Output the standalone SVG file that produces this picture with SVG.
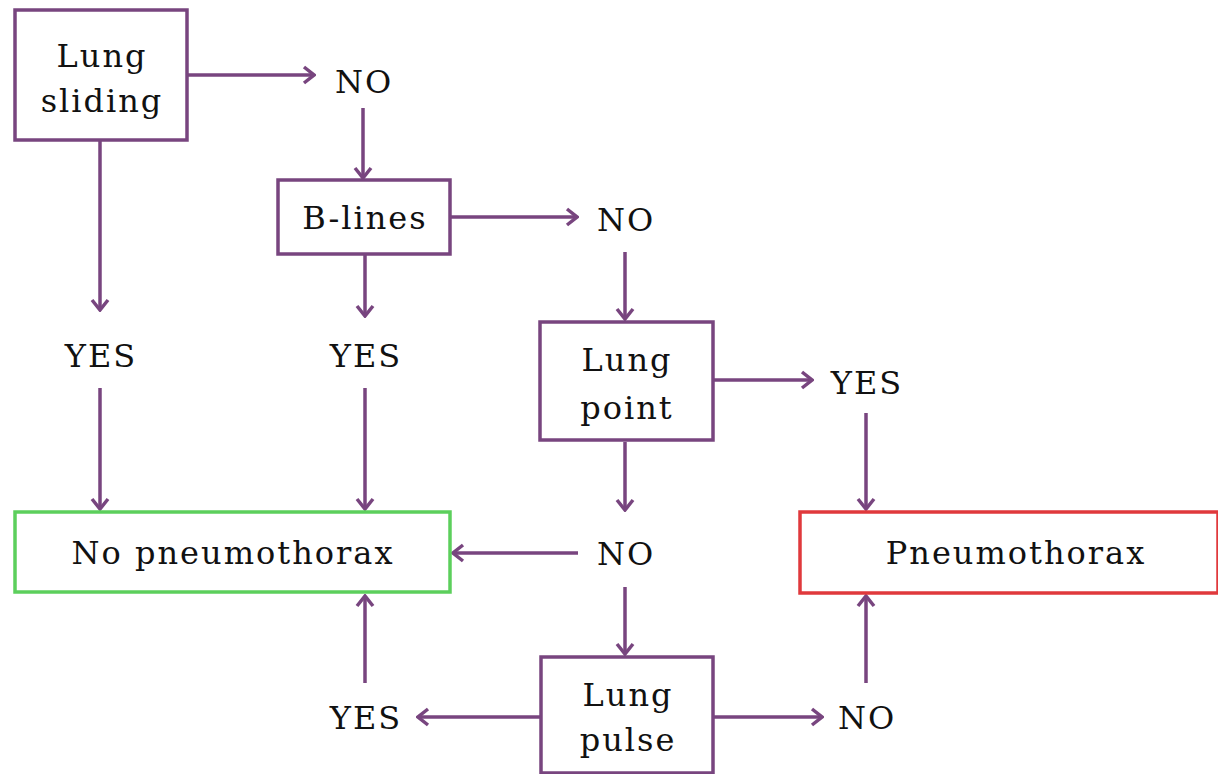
<svg xmlns="http://www.w3.org/2000/svg" width="1218" height="774" viewBox="0 0 1218 774">
<style>
.box{fill:#fff;stroke:#78457f;stroke-width:3.5}
.green{stroke:#5ccf5c}
.red{stroke:#e0393c}
.t{font-family:"DejaVu Serif","Liberation Serif",serif;font-size:32px;letter-spacing:2px;fill:#111;text-anchor:middle}
.c line{stroke:#78457f;stroke-width:3.5;marker-end:url(#ah)}
</style>
<defs>
<marker id="ah" viewBox="0 0 14 20" refX="12" refY="10" markerWidth="14" markerHeight="20" markerUnits="userSpaceOnUse" orient="auto">
<path d="M2,2 L12,10 L2,18" fill="none" stroke="#78457f" stroke-width="3.5" stroke-linejoin="miter"/>
</marker>
</defs>
<rect width="1218" height="774" fill="#fff"/>
<g class="c" id="connectors">
<line x1="187" y1="75" x2="314" y2="75"/>
<line x1="363" y1="108" x2="363" y2="178"/>
<line x1="450" y1="217" x2="577" y2="217"/>
<line x1="625" y1="252" x2="625" y2="319"/>
<line x1="100" y1="140" x2="100" y2="310"/>
<line x1="365" y1="255" x2="365" y2="316"/>
<line x1="100" y1="388" x2="100" y2="509"/>
<line x1="365" y1="388" x2="365" y2="509"/>
<line x1="713" y1="380" x2="812" y2="380"/>
<line x1="866" y1="413" x2="866" y2="509"/>
<line x1="625" y1="442" x2="625" y2="510"/>
<line x1="578" y1="553" x2="453" y2="553"/>
<line x1="625" y1="587" x2="625" y2="654"/>
<line x1="540" y1="717" x2="418" y2="717"/>
<line x1="365" y1="683" x2="365" y2="596"/>
<line x1="713" y1="717" x2="822" y2="717"/>
<line x1="866" y1="683" x2="866" y2="596"/>
</g>
<g id="lung-sliding"><rect class="box" x="15" y="10" width="172" height="130"/><text class="t" x="102" y="67">Lung</text><text class="t" x="102" y="112">sliding</text></g>
<g id="no1"><text class="t" x="364" y="93">NO</text></g>
<g id="b-lines"><rect class="box" x="278" y="180" width="172" height="74"/><text class="t" x="365" y="229">B-lines</text></g>
<g id="no2"><text class="t" x="626" y="231">NO</text></g>
<g id="yes1"><text class="t" x="101" y="367">YES</text></g>
<g id="yes2"><text class="t" x="366" y="367">YES</text></g>
<g id="lung-point"><rect class="box" x="540" y="322" width="173" height="118"/><text class="t" x="627" y="371">Lung</text><text class="t" x="627" y="419">point</text></g>
<g id="yes3"><text class="t" x="867" y="394">YES</text></g>
<g id="no-pneumothorax"><rect class="box green" x="15" y="512" width="435" height="80"/><text class="t" x="233" y="564">No pneumothorax</text></g>
<g id="no3"><text class="t" x="626" y="565">NO</text></g>
<g id="pneumothorax"><rect class="box red" x="800" y="512" width="418" height="81"/><text class="t" x="1016" y="564">Pneumothorax</text></g>
<g id="lung-pulse"><rect class="box" x="541" y="657" width="172" height="116"/><text class="t" x="628" y="706">Lung</text><text class="t" x="628" y="751">pulse</text></g>
<g id="yes4"><text class="t" x="366" y="729">YES</text></g>
<g id="no4"><text class="t" x="867" y="729">NO</text></g>
</svg>
